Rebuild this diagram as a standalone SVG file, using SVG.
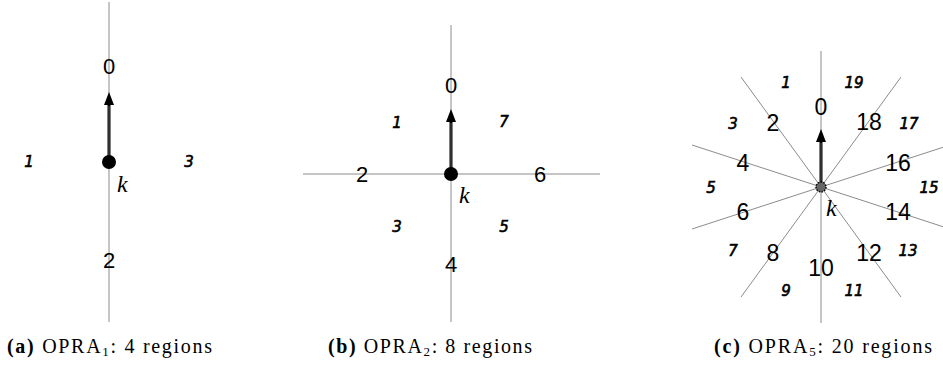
<svg xmlns="http://www.w3.org/2000/svg" width="943" height="367" viewBox="0 0 943 367">
<style>
.ln{stroke:#8c8c8c;stroke-width:1;fill:none}
.arr{stroke:#000;stroke-width:3;fill:none}
.arrc{stroke:#777;stroke-width:0.8;fill:none}
.big{font-family:"Liberation Sans","DejaVu Sans",sans-serif;font-size:22px;fill:#000;text-anchor:middle;dominant-baseline:central}
.bigc{font-size:23px}
.odd{font-family:"DejaVu Sans","Liberation Sans",sans-serif;font-style:italic;font-size:15px;fill:#000;stroke:#000;stroke-width:0.6;text-anchor:middle;dominant-baseline:central}
.k{font-family:"Liberation Serif",serif;font-style:italic;font-size:24px;fill:#000;dominant-baseline:central}
.cap{font-family:"Liberation Serif",serif;font-size:20px;fill:#000}
</style>
<defs>
<marker id="ah" viewBox="0 0 13 10" refX="0" refY="5" markerWidth="4.33" markerHeight="3.5" orient="auto" markerUnits="strokeWidth">
<path d="M0,0 L13,5 L0,10 Z" fill="#000"/>
</marker>
</defs>

<g id="panel-a">
<g id="a-connectors">
<line class="ln" x1="109" y1="2" x2="109" y2="322"/>
<line class="arr" x1="109" y1="162" x2="109" y2="105" marker-end="url(#ah)"/>
<line class="arrc" x1="109" y1="162" x2="109" y2="106"/>
</g>
<g id="a-k"><circle cx="109" cy="162" r="7" fill="#000"/><text class="k" x="117" y="184">k</text></g>
<g id="a-0"><text class="big" x="109" y="66">0</text></g>
<g id="a-2"><text class="big" x="109" y="260">2</text></g>
<g id="a-1"><text class="odd" x="29" y="162">1</text></g>
<g id="a-3"><text class="odd" x="189" y="162">3</text></g>
<text class="cap" x="7" y="353" textLength="205" lengthAdjust="spacing"><tspan font-weight="bold">(a)</tspan> OPRA<tspan font-size="13" dy="3">1</tspan><tspan dy="-3">: 4 regions</tspan></text>
</g>

<g id="panel-b">
<g id="b-connectors">
<line class="ln" x1="451" y1="25" x2="451" y2="322"/>
<line class="ln" x1="303" y1="174" x2="600" y2="174"/>
<line class="arr" x1="451" y1="174" x2="451" y2="122" marker-end="url(#ah)"/>
<line class="arrc" x1="451" y1="174" x2="451" y2="123"/>
</g>
<g id="b-k"><circle cx="451" cy="174" r="7" fill="#000"/><text class="k" x="459" y="195">k</text></g>
<g id="b-0"><text class="big" x="451" y="85">0</text></g>
<g id="b-2"><text class="big" x="362" y="174">2</text></g>
<g id="b-4"><text class="big" x="451" y="264">4</text></g>
<g id="b-6"><text class="big" x="540" y="174">6</text></g>
<g id="b-1"><text class="odd" x="397" y="123">1</text></g>
<g id="b-7"><text class="odd" x="504" y="122">7</text></g>
<g id="b-3"><text class="odd" x="397" y="227">3</text></g>
<g id="b-5"><text class="odd" x="504" y="227">5</text></g>
<text class="cap" x="328" y="353" textLength="204" lengthAdjust="spacing"><tspan font-weight="bold">(b)</tspan> OPRA<tspan font-size="13" dy="3">2</tspan><tspan dy="-3">: 8 regions</tspan></text>
</g>

<g id="panel-c">
<g id="c-connectors">
<line class="ln" x1="821" y1="51" x2="821" y2="323"/>
<line class="ln" x1="741" y1="77" x2="901" y2="297"/>
<line class="ln" x1="901" y1="77" x2="741" y2="297"/>
<line class="ln" x1="692" y1="145" x2="950" y2="229"/>
<line class="ln" x1="692" y1="229" x2="950" y2="145"/>
<line class="arr" x1="821" y1="187" x2="821" y2="142" marker-end="url(#ah)"/>
<line class="arrc" x1="821" y1="187" x2="821" y2="143"/>
</g>
<g id="c-k"><circle cx="821" cy="187" r="5" fill="#666" stroke="#000" stroke-width="1.4" stroke-dasharray="1.6,1.2"/><text class="k" x="826" y="208">k</text></g>
<g id="c-even">
<text class="big bigc" x="821" y="107">0</text>
<text class="big bigc" x="773" y="123">2</text>
<text class="big bigc" x="743" y="163">4</text>
<text class="big bigc" x="743" y="212">6</text>
<text class="big bigc" x="773" y="253">8</text>
<text class="big bigc" x="821" y="268">10</text>
<text class="big bigc" x="869" y="253">12</text>
<text class="big bigc" x="898" y="212">14</text>
<text class="big bigc" x="898" y="163">16</text>
<text class="big bigc" x="869" y="122">18</text>
</g>
<g id="c-odd">
<text class="odd" x="786" y="83">1</text>
<text class="odd" x="733" y="124">3</text>
<text class="odd" x="711" y="188">5</text>
<text class="odd" x="733" y="251">7</text>
<text class="odd" x="786" y="291">9</text>
<text class="odd" x="854" y="291">11</text>
<text class="odd" x="908" y="251">13</text>
<text class="odd" x="929" y="188">15</text>
<text class="odd" x="909" y="124">17</text>
<text class="odd" x="854" y="83">19</text>
</g>
<text class="cap" x="714" y="353" textLength="218" lengthAdjust="spacing"><tspan font-weight="bold">(c)</tspan> OPRA<tspan font-size="13" dy="3">5</tspan><tspan dy="-3">: 20 regions</tspan></text>
</g>
</svg>
